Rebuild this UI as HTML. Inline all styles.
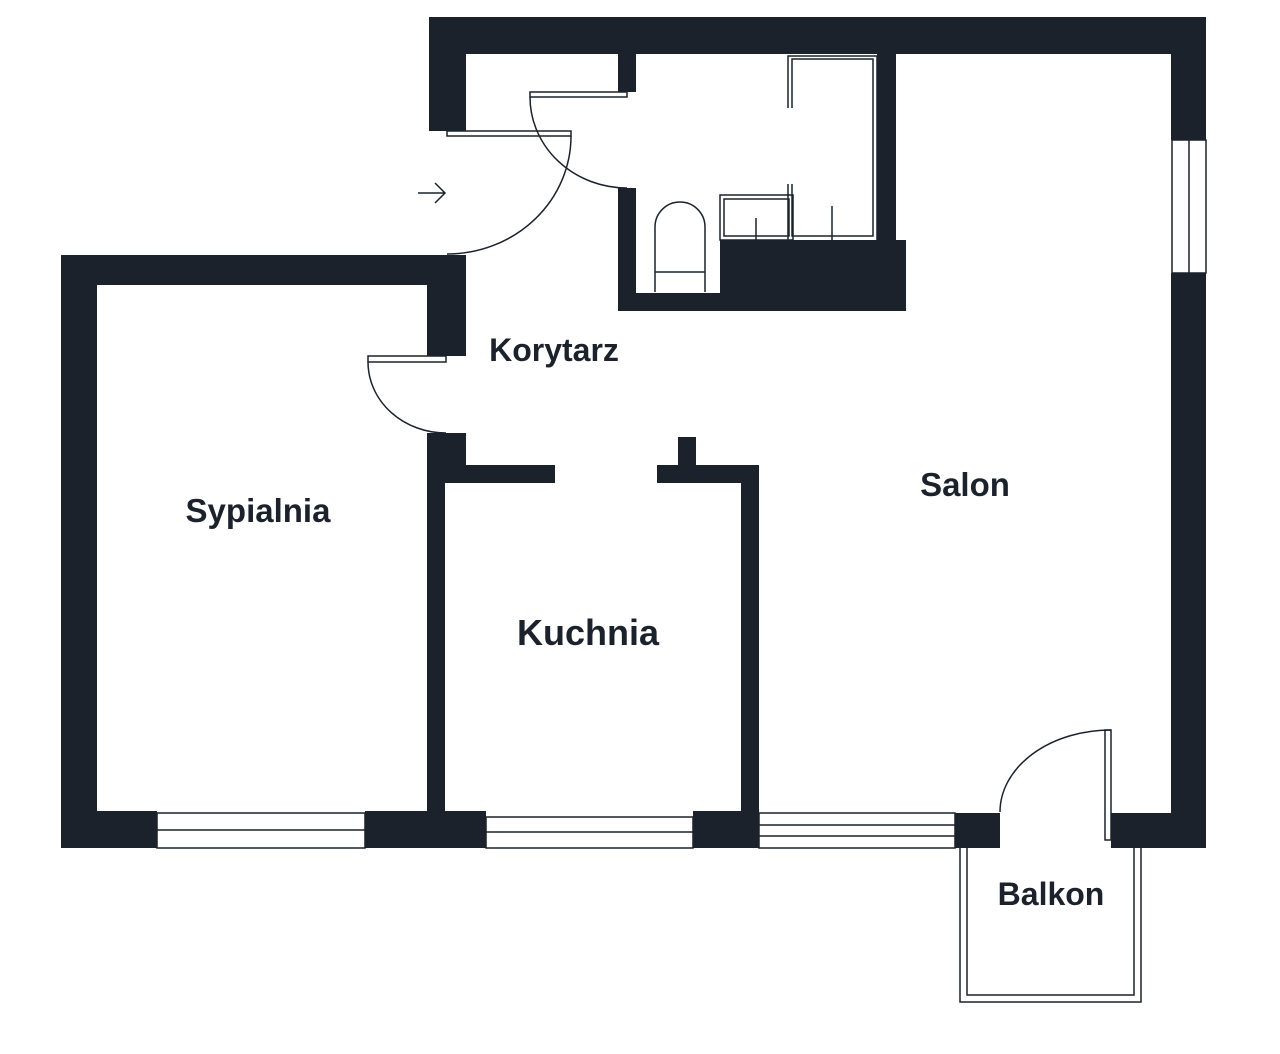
<!DOCTYPE html>
<html><head><meta charset="utf-8"><style>
html,body{margin:0;padding:0;background:#fff;}
svg{display:block}
text{font-family:"Liberation Sans",sans-serif;font-weight:bold;fill:#1c222c;text-anchor:middle}
</style></head><body>
<svg width="1280" height="1054" viewBox="0 0 1280 1054" xmlns="http://www.w3.org/2000/svg">
<rect width="1280" height="1054" fill="#fff"/>
<g fill="#1c222c">
<rect x="429" y="17" width="777" height="37"/>
<rect x="429" y="17" width="37" height="114"/>
<rect x="1171" y="17" width="35" height="123"/>
<rect x="1171" y="273" width="35" height="575"/>
<rect x="618" y="54" width="18" height="38"/>
<rect x="618" y="188" width="18" height="123"/>
<rect x="618" y="293" width="288" height="18"/>
<rect x="720" y="240" width="186" height="71"/>
<rect x="877" y="54" width="19" height="186"/>
<rect x="61" y="255" width="405" height="30"/>
<rect x="61" y="255" width="36" height="593"/>
<rect x="427" y="255" width="39" height="101"/>
<rect x="427" y="433" width="39" height="32"/>
<rect x="427" y="465" width="128" height="18"/>
<rect x="427" y="465" width="18" height="383"/>
<rect x="657" y="465" width="102" height="18"/>
<rect x="678" y="437" width="18" height="28"/>
<rect x="741" y="465" width="18" height="383"/>
<rect x="61" y="811" width="96" height="37"/>
<rect x="365" y="811" width="121" height="37"/>
<rect x="693" y="811" width="66" height="37"/>
<rect x="955" y="813" width="45" height="35"/>
<rect x="1111" y="813" width="95" height="35"/>
</g>
<g fill="none" stroke="#1c222c" stroke-width="1.5">
<rect x="157" y="813" width="208" height="35"/><line x1="157" y1="830" x2="365" y2="830"/>
<rect x="486" y="817" width="207" height="31"/><line x1="486" y1="832" x2="693" y2="832"/>
<rect x="759" y="813" width="196" height="35"/><line x1="759" y1="825" x2="955" y2="825"/><line x1="759" y1="836" x2="955" y2="836"/>
<rect x="1172" y="140" width="34" height="133"/><line x1="1189" y1="140" x2="1189" y2="273"/>
<rect x="447" y="131" width="124" height="5"/>
<path d="M571 136 A124 118 0 0 1 447 254"/>
<rect x="530" y="92" width="97" height="5"/>
<path d="M530 97 A97 91 0 0 0 627 188"/>
<rect x="368" y="356" width="78" height="6"/>
<path d="M368 362 A78 71 0 0 0 446 433"/>
<rect x="1105" y="730" width="6" height="110"/>
<path d="M1111 730 A111 82 0 0 0 1000 812"/>
<path d="M418 193 H445 M435 183 L445 193 L435 203"/>
<path d="M655 292 V227 A25 25 0 0 1 705 227 V292 M655 272 H705"/>
<path d="M788 108 V56 H877 V240 M792 108 V59 H873 V236 H792 V184 M788 184 V240"/>
<rect x="720" y="195" width="73" height="45"/>
<rect x="724" y="199" width="65" height="37"/>
<line x1="756" y1="218" x2="756" y2="240"/>
<line x1="832" y1="206" x2="832" y2="240"/>
<path d="M960 848 V1002 H1141 V848 M967 848 V995 H1134 V848"/>
</g>
<text x="554" y="361" font-size="32">Korytarz</text>
<text x="965" y="496" font-size="33">Salon</text>
<text x="258" y="522" font-size="33">Sypialnia</text>
<text x="588" y="645" font-size="36">Kuchnia</text>
<text x="1051" y="905" font-size="32">Balkon</text>
</svg>
</body></html>
